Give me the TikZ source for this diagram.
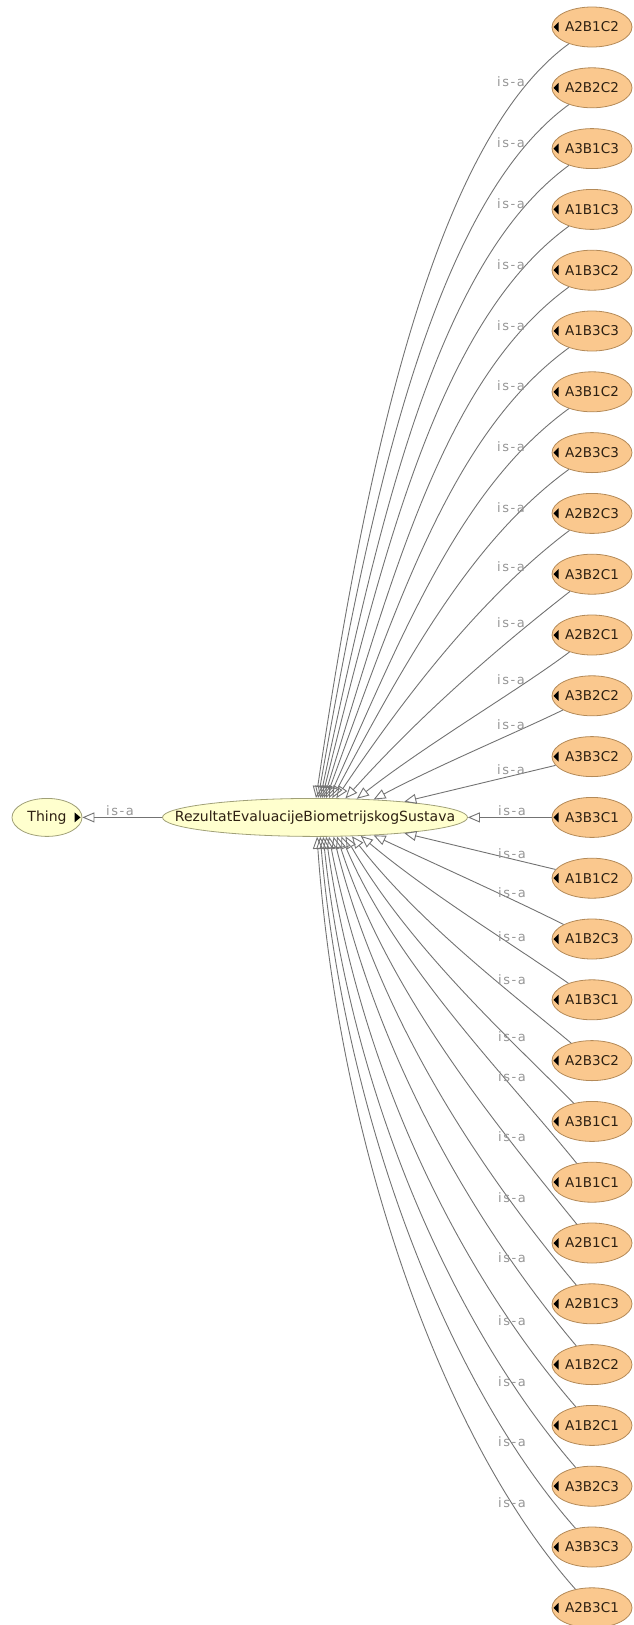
\documentclass[tikz,border=0pt]{standalone}
\usepackage{fontspec}
\setmainfont{DejaVu Sans}
\newfontfamily\isafont[LetterSpace=12]{DejaVu Sans}
\usetikzlibrary{shapes.geometric,arrows.meta}
\definecolor{indfill}{RGB}{250,200,142}
\definecolor{inddraw}{RGB}{180,138,88}
\definecolor{indtext}{RGB}{45,32,18}
\definecolor{clsfill}{RGB}{255,255,206}
\definecolor{clsdraw}{RGB}{160,160,120}
\definecolor{edgegray}{RGB}{115,115,115}
\definecolor{lblgray}{RGB}{150,150,150}
\tikzset{
  cls/.style={ellipse, draw=clsdraw, fill=clsfill, line width=0.8pt, inner sep=0pt,
    minimum height=38pt, text=indtext, font=\fontsize{14}{16}\selectfont},
  ind/.style={ellipse, draw=inddraw, fill=indfill, line width=0.8pt, inner sep=0pt,
    minimum width=80pt, minimum height=40pt, text=indtext, font=\fontsize{13.5}{16}\selectfont,
    path picture={\fill[black] ([xshift=1.5pt]path picture bounding box.west) -- ++(5pt,5pt) -- ++(0,-10pt) -- cycle;}},
  rtri/.style={path picture={\fill[black] ([xshift=-1.5pt]path picture bounding box.east) -- ++(-6pt,5pt) -- ++(0,-10pt) -- cycle;}},
  isa/.style={draw=edgegray, line width=0.9pt, -{Triangle[open, length=12pt, width=10pt]}},
  isalbl/.style={text=lblgray, inner sep=0pt, font=\isafont\fontsize{13}{15}\selectfont},
}
\begin{document}
\begin{tikzpicture}[x=1pt,y=1pt]
    \useasboundingbox (0,0) rectangle (633,-1625);
    % classes
    \node[cls, rtri, minimum width=70pt] (thing) at (47,-817.4) {Thing};
    \node[cls, minimum width=305pt] (rez) at (315,-817.4) {\makebox[150pt]{RezultatEvaluacijeBiometrijskogSustava}};
    % individuals
    \node[ind] (a2b1c2) at (592,-27) {A2B1C2};
    \node[ind] (a2b2c2) at (592,-87.8) {A2B2C2};
    \node[ind] (a3b1c3) at (592,-148.6) {A3B1C3};
    \node[ind] (a1b1c3) at (592,-209.4) {A1B1C3};
    \node[ind] (a1b3c2) at (592,-270.2) {A1B3C2};
    \node[ind] (a1b3c3) at (592,-331) {A1B3C3};
    \node[ind] (a3b1c2) at (592,-391.8) {A3B1C2};
    \node[ind] (a2b3c3) at (592,-452.6) {A2B3C3};
    \node[ind] (a2b2c3) at (592,-513.4) {A2B2C3};
    \node[ind] (a3b2c1) at (592,-574.2) {A3B2C1};
    \node[ind] (a2b2c1) at (592,-635) {A2B2C1};
    \node[ind] (a3b2c2) at (592,-695.8) {A3B2C2};
    \node[ind] (a3b3c2) at (592,-756.6) {A3B3C2};
    \node[ind] (a3b3c1) at (592,-817.4) {A3B3C1};
    \node[ind] (a1b1c2) at (592,-878.2) {A1B1C2};
    \node[ind] (a1b2c3) at (592,-939) {A1B2C3};
    \node[ind] (a1b3c1) at (592,-999.8) {A1B3C1};
    \node[ind] (a2b3c2) at (592,-1060.6) {A2B3C2};
    \node[ind] (a3b1c1) at (592,-1121.4) {A3B1C1};
    \node[ind] (a1b1c1) at (592,-1182.2) {A1B1C1};
    \node[ind] (a2b1c1) at (592,-1243) {A2B1C1};
    \node[ind] (a2b1c3) at (592,-1303.8) {A2B1C3};
    \node[ind] (a1b2c2) at (592,-1364.6) {A1B2C2};
    \node[ind] (a1b2c1) at (592,-1425.4) {A1B2C1};
    \node[ind] (a3b2c3) at (592,-1486.2) {A3B2C3};
    \node[ind] (a3b3c3) at (592,-1547) {A3B3C3};
    \node[ind] (a2b3c1) at (592,-1607.8) {A2B3C1};
    % is-a edges
    \draw[isa] (rez) -- (thing);
    \draw[isa] (a2b1c2) .. controls +(216:204) and +(81.5:303) .. (rez.87);
    \draw[isa] (a2b2c2) .. controls +(216:198) and +(80:295) .. (rez.81);
    \draw[isa] (a3b1c3) .. controls +(216:193) and +(78:280) .. (rez.75);
    \draw[isa] (a1b1c3) .. controls +(216:187) and +(76:260) .. (rez.70);
    \draw[isa] (a1b3c2) .. controls +(216:180) and +(73:240) .. (rez.65);
    \draw[isa] (a1b3c3) .. controls +(216:170) and +(70:215) .. (rez.60);
    \draw[isa] (a3b1c2) .. controls +(216:160) and +(66:190) .. (rez.54);
    \draw[isa] (a2b3c3) .. controls +(216:145) and +(62:165) .. (rez.48);
    \draw[isa] (a2b2c3) .. controls +(217:130) and +(56:140) .. (rez.42);
    \draw[isa] (a3b2c1) .. controls +(218:110) and +(48:120) .. (rez.32);
    \draw[isa] (a2b2c1) .. controls +(217:90) and +(38:90) .. (rez.24);
    \draw[isa] (a3b2c2) .. controls +(206:80) and +(28:70) .. (rez.17);
    \draw[isa] (a3b3c2) -- (rez.10);
    \draw[isa] (a3b3c1) -- (rez);
    \draw[isa] (a1b1c2) -- (rez.350);
    \draw[isa] (a1b2c3) .. controls +(153:80) and +(335:75) .. (rez.343);
    \draw[isa] (a1b3c1) .. controls +(145:95) and +(320:90) .. (rez.338);
    \draw[isa] (a2b3c2) .. controls +(140:110) and +(308:110) .. (rez.333);
    \draw[isa] (a3b1c1) .. controls +(135:125) and +(300:125) .. (rez.328);
    \draw[isa] (a1b1c1) .. controls +(129:140) and +(293:140) .. (rez.324);
    \draw[isa] (a2b1c1) .. controls +(129:155) and +(288:165) .. (rez.319);
    \draw[isa] (a2b1c3) .. controls +(130:170) and +(284:190) .. (rez.314);
    \draw[isa] (a1b2c2) .. controls +(130:185) and +(281:215) .. (rez.306);
    \draw[isa] (a1b2c1) .. controls +(131:198) and +(278:240) .. (rez.300);
    \draw[isa] (a3b2c3) .. controls +(131:210) and +(276:260) .. (rez.293);
    \draw[isa] (a3b3c3) .. controls +(131.5:220) and +(275:280) .. (rez.285);
    \draw[isa] (a2b3c1) .. controls +(131.7:230) and +(274:300) .. (rez.276);
    % labels
    \node[isalbl] (l0) at (120,-811) {is-a};
    \node[isalbl] (l1) at (511,-82) {is-a};
    \node[isalbl] (l2) at (511,-142.8) {is-a};
    \node[isalbl] (l3) at (511,-203.6) {is-a};
    \node[isalbl] (l4) at (511,-264.4) {is-a};
    \node[isalbl] (l5) at (511,-325.2) {is-a};
    \node[isalbl] (l6) at (511,-386) {is-a};
    \node[isalbl] (l7) at (511,-446.8) {is-a};
    \node[isalbl] (l8) at (511,-507.6) {is-a};
    \node[isalbl] (l9) at (511,-567) {is-a};
    \node[isalbl] (l10) at (511,-623) {is-a};
    \node[isalbl] (l11) at (511,-680) {is-a};
    \node[isalbl] (l12) at (511,-725) {is-a};
    \node[isalbl] (l13) at (511,-770) {is-a};
    \node[isalbl] (l14) at (512,-811) {is-a};
    \node[isalbl] (l15) at (512,-854) {is-a};
    \node[isalbl] (l16) at (512,-893) {is-a};
    \node[isalbl] (l17) at (512,-937) {is-a};
    \node[isalbl] (l18) at (512,-980) {is-a};
    \node[isalbl] (l19) at (512,-1037) {is-a};
    \node[isalbl] (l20) at (512,-1077) {is-a};
    \node[isalbl] (l21) at (512,-1137) {is-a};
    \node[isalbl] (l22) at (512,-1198) {is-a};
    \node[isalbl] (l23) at (512,-1258) {is-a};
    \node[isalbl] (l24) at (512,-1321) {is-a};
    \node[isalbl] (l25) at (512,-1382) {is-a};
    \node[isalbl] (l26) at (512,-1442) {is-a};
    \node[isalbl] (l27) at (512,-1503) {is-a};
\end{tikzpicture}
\end{document}
